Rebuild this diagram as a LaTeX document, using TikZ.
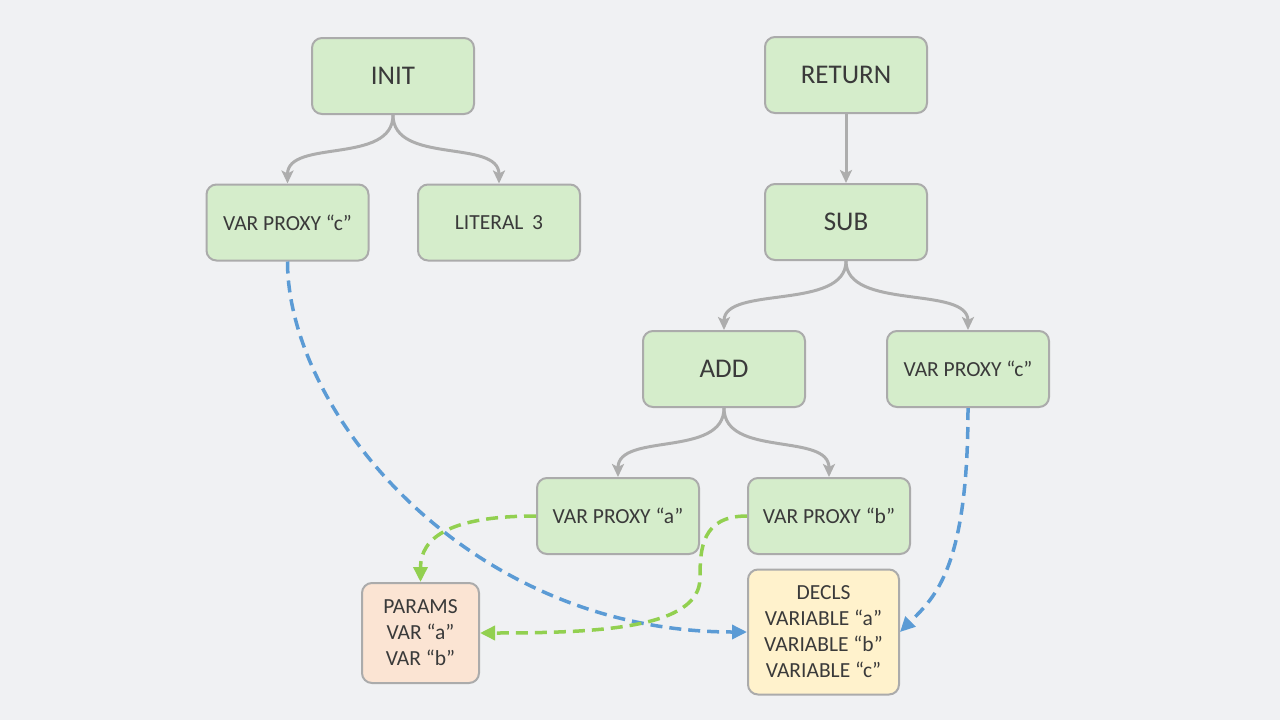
\documentclass[tikz,border=0pt]{standalone}
\usepackage{fontspec}
\setmainfont{Carlito}
\usetikzlibrary{arrows.meta}
\definecolor{bg}{HTML}{F0F1F3}
\definecolor{nodegreen}{HTML}{D5EDCB}
\definecolor{bordergray}{HTML}{ABABAB}
\definecolor{paramfill}{HTML}{FBE4D3}
\definecolor{declfill}{HTML}{FFF2CC}
\definecolor{txt}{HTML}{3A3A3A}
\definecolor{linkblue}{HTML}{5B9BD5}
\definecolor{linkgreen}{HTML}{92D050}
\definecolor{arrowgray}{HTML}{ADADAD}
\begin{document}
\begin{tikzpicture}[x=1pt,y=-1pt,
  box/.style={draw=bordergray, line width=2pt, rounded corners=10pt, fill=nodegreen,
    text=txt, minimum width=162pt, minimum height=76pt, inner sep=0pt, align=center},
  big/.style={font=\fontsize{27}{32}\selectfont},
  small/.style={font=\fontsize{21.5}{26}\selectfont},
  tree/.style={draw=arrowgray, line width=3pt, -{Stealth[length=13pt,width=12pt,inset=3pt]}},
  bluelink/.style={draw=linkblue, line width=3.5pt, dash pattern=on 12pt off 7pt,
    -{Triangle[length=15pt,width=14pt]}},
  greenlink/.style={draw=linkgreen, line width=3.5pt, dash pattern=on 12pt off 7pt,
    -{Triangle[length=15pt,width=14pt]}}
]
\fill[bg] (0,0) rectangle (1280,720);
\useasboundingbox (0,0) rectangle (1280,720);

\node[box,big] (init) at (393,76) {INIT};
\node[box,big] (ret) at (846,75) {RETURN};
\node[box,small] (vpc1) at (287.5,222.5) {VAR PROXY “c”};
\node[box,small] (lit) at (499,222.5) {LITERAL\hspace{0.4em}3};
\node[box,big] (sub) at (846,222) {SUB};
\node[box,big] (add) at (724,369) {ADD};
\node[box,small] (vpc2) at (968,369) {VAR PROXY “c”};
\node[box,small] (vpa) at (618,516) {VAR PROXY “a”};
\node[box,small] (vpb) at (829,516) {VAR PROXY “b”};
\node[box,small,fill=paramfill,minimum width=117pt,minimum height=100pt] (params) at (420.5,633)
  {PARAMS\\VAR “a”\\VAR “b”};
\node[box,small,fill=declfill,minimum width=151pt,minimum height=125pt] (decls) at (823.5,632)
  {DECLS\\VARIABLE “a”\\VARIABLE “b”\\VARIABLE “c”};

% tree edges
\draw[tree] (init.south) .. controls +(0,50) and +(0,-45) .. (vpc1.north);
\draw[tree] (init.south) .. controls +(0,50) and +(0,-45) .. (lit.north);
\draw[tree] (ret.south) -- (sub.north);
\draw[tree] (sub.south) .. controls +(0,50) and +(0,-45) .. (add.north);
\draw[tree] (sub.south) .. controls +(0,50) and +(0,-45) .. (vpc2.north);
\draw[tree] (add.south) .. controls +(0,50) and +(0,-45) .. (vpa.north);
\draw[tree] (add.south) .. controls +(0,50) and +(0,-45) .. (vpb.north);

% links
\draw[bluelink] (vpc1.south) .. controls +(0,150) and +(-280,0) .. (decls.west);
\draw[bluelink] (vpc2.south) .. controls +(0,160) and +(35,-35) .. (decls.east);
\draw[greenlink] (vpa.west) .. controls +(-85,0) and +(0,-45) .. (params.north);
\draw[greenlink] (vpb.west) .. controls +(-45,0) and +(0,-30) .. (700,578)
  .. controls +(0,50) and +(120,0) .. (params.east);
\end{tikzpicture}
\end{document}
